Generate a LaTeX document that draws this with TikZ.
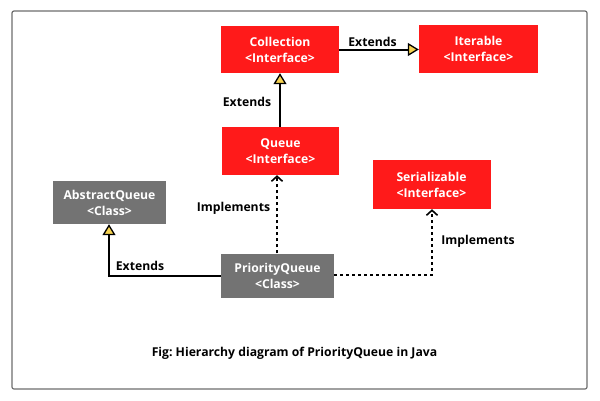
\documentclass[tikz,border=0pt]{standalone}
\usepackage{fontspec}
\setmainfont{Open Sans}
\frenchspacing
\usetikzlibrary{arrows.meta}
\definecolor{boxred}{RGB}{255,26,26}
\definecolor{boxgray}{RGB}{115,115,115}
\definecolor{tipyellow}{RGB}{245,210,80}
\definecolor{framegray}{RGB}{110,110,110}
\tikzset{
  ifacebox/.style={rectangle, fill=boxred, text=white, align=center, inner sep=0pt,
    font=\bfseries\fontsize{12.2}{16}\selectfont},
  classbox/.style={rectangle, fill=boxgray, text=white, align=center, inner sep=0pt,
    font=\bfseries\fontsize{12.2}{16}\selectfont},
  lbl/.style={font=\bfseries\fontsize{12.2}{14}\selectfont, text=black, inner sep=0pt},
  extends/.style={line width=2pt, -{Triangle[length=11pt, width=13pt, fill=tipyellow, line width=1.3pt]}},
  implements/.style={line width=2pt, dash pattern=on 3pt off 3pt, -{Straight Barb[length=5pt, width=11pt, line width=1.6pt]}}
}
\begin{document}
\begin{tikzpicture}[x=1pt, y=-1pt]
\useasboundingbox (0,0) rectangle (600,400);
\fill[white] (0,0) rectangle (600,400);
\draw[framegray, line width=1.2pt, rounded corners=2pt] (12,11) rectangle (587,389);

\node[ifacebox, minimum width=118pt, minimum height=47pt] (coll) at (280,49.5) {Collection\\<Interface>};
\node[ifacebox, minimum width=119pt, minimum height=48pt] (iter) at (478.5,49) {Iterable\\<Interface>};
\node[ifacebox, minimum width=117pt, minimum height=48pt] (queue) at (280.5,151) {Queue\\<Interface>};
\node[ifacebox, minimum width=118pt, minimum height=49pt] (ser) at (431.5,184.5) {Serializable\\<Interface>};
\node[classbox, minimum width=113pt, minimum height=43pt] (aq) at (109.5,202.5) {AbstractQueue\\<Class>};
\node[classbox, minimum width=113pt, minimum height=44pt] (pq) at (277.5,275.5) {PriorityQueue\\<Class>};

\coordinate (c1) at (109,276);
\coordinate (c2) at (432,275);

\draw[extends] (coll.east |- 0,49.5) -- (iter.west |- 0,49.5);
\draw[extends] (queue.north -| 280,0) -- (coll.south -| 280,0);
\draw[extends] (pq.west |- c1) -- (c1) -- (aq.south -| c1);
\draw[implements] (pq.north -| 277,0) -- (queue.south -| 277,0);
\draw[implements] (pq.east |- c2) -- (c2) -- (ser.south -| c2);

\node[lbl] (l1) at (372.5,42) {Extends};
\node[lbl] (l2) at (247,102) {Extends};
\node[lbl] (l3) at (233.5,208) {Implements};
\node[lbl] (l4) at (140,266) {Extends};
\node[lbl] (l5) at (478,241) {Implements};
\node[lbl] (cap) at (294.5,353) {Fig: Hierarchy diagram of PriorityQueue in Java};
\end{tikzpicture}
\end{document}
